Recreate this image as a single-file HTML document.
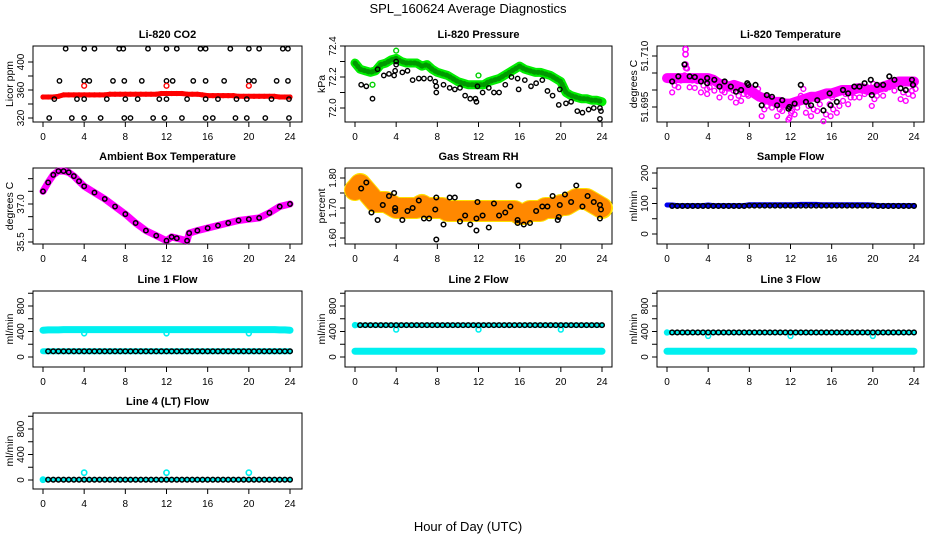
<!DOCTYPE html>
<html><head><meta charset="utf-8"><style>
body{margin:0;background:#fff}
svg{display:block;font-family:"Liberation Sans",sans-serif}
</style></head><body>
<svg id="chart" width="936" height="540" viewBox="0 0 936 540" xmlns="http://www.w3.org/2000/svg">
<rect width="936" height="540" fill="#fff"/>
<text x="468" y="13" text-anchor="middle" font-size="13">SPL_160624  Average Diagnostics</text>
<text x="468" y="531" text-anchor="middle" font-size="13">Hour of Day (UTC)</text>
</svg>
<script>
// ---------- data ----------
const hours = [0,0.5,1,1.5,2,2.5,3,3.5,4,4.5,5,5.5,6,6.5,7,7.5,8,8.5,9,9.5,10,10.5,11,11.5,12,12.5,13,13.5,14,14.5,15,15.5,16,16.5,17,17.5,18,18.5,19,19.5,20,20.5,21,21.5,22,22.5,23,23.5,24];
const xTicks = [0,4,8,12,16,20,24];

const co2Red = [350,350,350,351,353,353,353,353,353,353,353,353,353,354,354,354,354,354,354,354,354,354,354,355,355,355,355,355,354,354,354,353,352,352,352,352,352,352,351,351,351,351,351,351,351,351,350,350,350];
const co2BlackX = [2.2,4,5,7.4,7.8,10.2,12,13,15.3,15.8,18.2,20,21,23.3,23.8, 1.6,4,4.5,6.8,7.9,9.6,12,12.6,14.6,15.8,17.6,20,20.5,22.7,23.8, 1.1,3.3,4,6.2,8,9.2,11.3,12,14,15.8,17,18.8,19.8,22.2,23.9, 0.6,2.8,4,5.6,7.9,8.5,10.7,11.8,13.5,15.8,16.5,18.7,19.8,21.6,23.9];
const co2BlackY = [419,419,419,419,419,419,419,419,419,419,419,419,419,419,419, 373,373,373,373,373,373,373,373,373,373,373,373,373,373,373, 347,347,347,347,347,347,347,347,347,347,347,347,347,347,347, 320,320,320,320,320,320,320,320,320,320,320,320,320,320,320];
const co2CalX = [4,12,20];
const co2CalY = [366,366,366];

const presGreen = [72.29,72.25,72.24,72.23,72.24,72.28,72.29,72.31,72.32,72.30,72.29,72.29,72.29,72.27,72.28,72.25,72.23,72.22,72.21,72.19,72.17,72.16,72.15,72.15,72.15,72.15,72.17,72.18,72.19,72.21,72.23,72.25,72.27,72.25,72.24,72.23,72.23,72.22,72.21,72.19,72.17,72.10,72.08,72.07,72.06,72.06,72.05,72.05,72.04];
const presBlackX = [0.6,1.1,1.7,2.2,2.8,3.3,3.8,3.9,4,4,4.6,5.1,5.6,6.2,6.7,7.3,7.8,7.9,7.9,8.6,9.2,9.7,10.2,10.7,11.2,11.7,11.8,11.9,12.4,13,13.5,14,14.6,15.2,15.8,15.9,16.5,17.1,17.6,18.2,18.7,19.2,19.8,19.9,20.5,21,21.6,22.1,22.7,23.2,23.8,23.9,23.8];
const presBlackY = [72.15,72.14,72.06,72.25,72.21,72.22,72.21,72.24,72.28,72.30,72.23,72.24,72.18,72.19,72.19,72.19,72.17,72.14,72.10,72.15,72.13,72.12,72.13,72.08,72.06,72.06,72.04,72.14,72.10,72.13,72.10,72.10,72.15,72.20,72.19,72.12,72.18,72.14,72.16,72.18,72.11,72.08,72.02,72.12,72.03,72.04,71.98,71.97,71.99,72.00,72.00,71.98,71.93];
const presCalX = [1.7,4,12];
const presCalY = [72.15,72.37,72.21];

const tempMag = [51.7035,51.7035,51.7035,51.7035,51.7035,51.7035,51.7035,51.7035,51.7035,51.703,51.702,51.7015,51.701,51.7015,51.701,51.7005,51.700,51.699,51.698,51.6975,51.697,51.6965,51.6965,51.696,51.696,51.6965,51.697,51.6975,51.698,51.698,51.6985,51.699,51.699,51.6995,51.700,51.700,51.700,51.7005,51.7005,51.700,51.700,51.7005,51.701,51.7015,51.702,51.7025,51.7025,51.7025,51.7025];
const tempBlackX = [0.5,1.1,1.7,2.2,2.7,3.3,3.9,3.9,4.6,5.1,5.6,6.2,6.7,7.2,7.8,7.9,8.6,9.2,9.7,10.2,10.7,11.2,11.8,11.9,12.4,13,13.5,14,14.6,15.2,15.8,15.9,16.5,17.1,17.6,18.2,18.7,19.2,19.8,19.9,20.4,21,21.6,22.1,22.7,23.2,23.8,23.9];
const tempBlackY = [51.7025,51.704,51.7075,51.704,51.7038,51.7025,51.7035,51.702,51.703,51.701,51.7025,51.701,51.6995,51.700,51.702,51.7015,51.7015,51.6955,51.6985,51.698,51.6955,51.697,51.6945,51.695,51.696,51.7015,51.6965,51.6955,51.697,51.694,51.699,51.6955,51.6965,51.7,51.699,51.701,51.701,51.702,51.703,51.6985,51.7015,51.7015,51.704,51.703,51.7005,51.7,51.703,51.7015];
const tempSpikeX = [1.8,1.8,1.8,1.85];
const tempSpikeY = [51.712,51.7105,51.7075,51.7065];

const ambX = [0,0.5,1,1.5,2,2.5,3,3.5,4,5,6,7,8,9,10,11,12,12.5,13,14,14.2,15,16,17,18,19,20,21,22,23,24];
const ambY = [37.5,37.85,38.15,38.3,38.3,38.25,38.1,37.9,37.7,37.45,37.2,36.9,36.6,36.25,35.95,35.75,35.55,35.7,35.65,35.55,35.85,35.95,36.05,36.15,36.25,36.35,36.4,36.45,36.65,36.9,37.0];

const rhOrange = [1.76,1.78,1.76,1.74,1.72,1.72,1.72,1.71,1.70,1.70,1.70,1.70,1.70,1.71,1.70,1.70,1.70,1.70,1.69,1.69,1.69,1.69,1.69,1.69,1.69,1.69,1.69,1.69,1.69,1.69,1.69,1.69,1.68,1.68,1.69,1.69,1.69,1.70,1.70,1.70,1.71,1.71,1.72,1.73,1.73,1.73,1.72,1.71,1.70];
const rhBlackX = [0.6,1.1,1.6,2.2,2.7,3.3,3.8,3.9,3.9,4.6,5.1,5.6,6.2,6.7,7.2,7.8,7.9,7.9,8.6,9.2,9.7,10.2,10.7,11.2,11.8,11.8,11.9,12.4,13,13.5,14,14.6,15.1,15.8,15.8,15.9,16.4,17,17.6,18.2,18.7,19.2,19.7,19.8,19.9,20.4,21,21.5,22.1,22.6,23.2,23.8,23.9,23.8];
const rhBlackY = [1.765,1.785,1.685,1.66,1.71,1.74,1.75,1.70,1.69,1.66,1.69,1.70,1.725,1.665,1.665,1.695,1.735,1.595,1.645,1.735,1.735,1.655,1.675,1.645,1.665,1.625,1.72,1.675,1.635,1.715,1.675,1.685,1.705,1.66,1.65,1.775,1.645,1.65,1.69,1.705,1.705,1.74,1.66,1.67,1.71,1.745,1.72,1.775,1.705,1.74,1.72,1.71,1.695,1.665];

const sampleBlue = [95,95,93,93,93,93,93,93,95,93,93,93,93,93,93,93,96,96,96,96,96,96,96,96,96,96,97,97,97,97,96,96,96,96,96,96,96,96,96,96,95,93,93,93,93,93,93,93,93];
const sampleBlack = [93,92,92,92,92,92,92,92,92,92,92,92,92,92,92,92,93,93,93,93,93,93,93,93,93,93,93,93,93,93,93,93,93,93,93,93,93,93,93,93,93,92,92,92,92,92,92,92,92];

const line1Cyan = [420,425,425,425,430,430,430,430,430,430,430,430,430,430,430,430,430,430,430,430,430,430,430,430,430,430,430,430,430,430,430,430,430,430,430,430,430,430,430,430,430,430,430,430,430,430,425,425,420];
const line1Black = [90,90,90,90,90,90,90,90,90,90,90,90,90,90,90,90,90,90,90,90,90,90,90,90,90,90,90,90,90,90,90,90,90,90,90,90,90,90,90,90,90,90,90,90,90,90,90,90,90];
const line1DipX = [4,12,20]; const line1DipY = [370,370,370];
const line2Cyan = [90,90,90,90,90,90,90,90,90,90,90,90,90,90,90,90,90,90,90,90,90,90,90,90,90,90,90,90,90,90,90,90,90,90,90,90,90,90,90,90,90,90,90,90,90,90,90,90,90];
const line2Black = [500,500,500,500,500,500,500,500,500,500,500,500,500,500,500,500,500,500,500,500,500,500,500,500,500,500,500,500,500,500,500,500,500,500,500,500,500,500,500,500,500,500,500,500,500,500,500,500,500];
const line2DipX = [0,4,12,20]; const line2DipY = [500,430,430,430];
const line3Cyan = line2Cyan;
const line3Black = [385,385,385,385,385,385,385,385,385,385,385,385,385,385,385,385,385,385,385,385,385,385,385,385,385,385,385,385,385,385,385,385,385,385,385,385,385,385,385,385,385,385,385,385,385,385,385,385,385];
const line3DipX = [0,4,12,20]; const line3DipY = [385,330,330,330];
const line4Black = [5,5,5,5,5,5,5,5,5,5,5,5,5,5,5,5,5,5,5,5,5,5,5,5,5,5,5,5,5,5,5,5,5,5,5,5,5,5,5,5,5,5,5,5,5,5,5,5,5];
const line4DipX = [0,4,12,20]; const line4DipY = [5,115,115,115];

// ---------- drawing ----------
const NS = 'http://www.w3.org/2000/svg';
const svg = document.getElementById('chart');
const colX0 = [33,345,657], colX1 = [302,612,924];
const rowTop = [46,168,291,413], BOXH = 76;

function el(tag, attrs, parent){
  const e = document.createElementNS(NS, tag);
  for (const k in attrs) e.setAttribute(k, attrs[k]);
  (parent||svg).appendChild(e);
  return e;
}

function makePanel(col,row,title,ylab,v0,p0,v1,p1,ticks,labels,key){
  const g = el('g',{});
  
  
  const x0 = colX0[col], x1 = colX1[col], top = rowTop[row], bot = top+BOXH;
  const sx = h => x0 + 10 + h*(247/24);
  const sy = v => p0 + (v - v0)*(p1-p0)/(v1-v0);
  const t = el('text',{x:(x0+x1)/2, y:top-8, 'text-anchor':'middle','font-size':11,'font-weight':'bold'},g);
  t.textContent = title;
  
  
  const box = el('rect',{x:x0,y:top,width:x1-x0,height:BOXH,fill:'none',stroke:'#000','stroke-width':1},g);
  
  
  xTicks.forEach(h=>{
    el('line',{x1:sx(h),x2:sx(h),y1:bot,y2:bot+5,stroke:'#000'},g);
    const tl = el('text',{x:sx(h),y:bot+18,'text-anchor':'middle','font-size':10},g);
    tl.textContent = h;
    
    
  });
  ticks.forEach(v=>{ el('line',{x1:x0-5,x2:x0,y1:sy(v),y2:sy(v),stroke:'#000'},g); });
  labels.forEach(v=>{
    const yl = el('text',{x:0,y:0,'text-anchor':'middle','font-size':10,transform:`translate(${x0-9},${sy(v)}) rotate(-90)`},g);
    yl.textContent = v;
    
    
  });
  const ya = el('text',{x:0,y:0,'text-anchor':'middle','font-size':10.5,transform:`translate(${x0-20},${top+BOXH/2}) rotate(-90)`},g);
  ya.textContent = ylab;
  
  
  const clip = el('g',{},g);
  return {g:clip,sx,sy};
}
function band(P,xs,ys,color,w,name){
  const pts = xs.map((h,i)=>P.sx(h)+','+P.sy(ys[i])).join(' ');
  const l = el('polyline',{points:pts,fill:'none',stroke:color,'stroke-width':w,'stroke-linejoin':'round','stroke-linecap':'round'},P.g);
  
  
  return l;
}
function pts(P,xs,ys,color,r,sw,name,fill){
  xs.forEach((h,i)=>{
    const c = el('circle',{cx:P.sx(h),cy:P.sy(ys[i]),r:r,fill:fill||'none',stroke:color,'stroke-width':sw},P.g);
    
    
  });
}

// CO2
let P = makePanel(0,0,'Li-820 CO2','Licor ppm',320,118,400,62,[320,340,360,380,400],[320,360,400],'co2');
band(P,hours,co2Red,'#f00',5,'co2-red-series');
pts(P,hours,co2Red,'#f00',2,1.2,'co2-red-point');
pts(P,co2BlackX,co2BlackY,'#000',2.2,1.4,'co2-black-point');
pts(P,co2CalX,co2CalY,'#f00',2.4,1.4,'co2-red-outlier');

// Pressure
P = makePanel(1,0,'Li-820 Pressure','kPa',72.0,108,72.2,77,[72.0,72.1,72.2,72.3,72.4],['72.0','72.2','72.4'],'pressure');
band(P,hours,presGreen,'#00ee00',9,'pressure-green-series');
band(P,hours,presGreen,'#009900',5,'pressure-green-texture').setAttribute('stroke-dasharray','1 3');
pts(P,presCalX,presCalY,'#00d000',2.4,1.4,'pressure-green-outlier');
pts(P,presBlackX,presBlackY,'#000',2.2,1.4,'pressure-black-point');

// Temperature
P = makePanel(2,0,'Li-820 Temperature','degrees C',51.695,107,51.710,56,[51.695,51.700,51.705,51.710],['51.695','51.710'],'li-temperature');
band(P,hours,tempMag,'#ff00ff',10,'temperature-magenta-series');
pts(P,tempBlackX,tempBlackY.map(v=>v-0.0032),'#ff00ff',2.4,1.4,'temperature-magenta-scatter');
pts(P,tempBlackX.map(v=>v+0.25),tempBlackY.map(v=>v-0.0012),'#ff00ff',2.4,1.4,'temperature-magenta-scatter');
pts(P,tempSpikeX,tempSpikeY,'#ff00ff',2.6,1.6,'temperature-magenta-spike');
pts(P,tempBlackX,tempBlackY,'#000',2.3,1.6,'temperature-black-point');

// Ambient
P = makePanel(0,1,'Ambient Box Temperature','degrees C',35.5,242,37.0,204,[35.5,36,36.5,37,37.5,38],['35.5','37.0'],'ambient');
band(P,ambX,ambY,'#ff00ff',7,'ambient-magenta-series');
pts(P,ambX,ambY,'#000',2.2,1.5,'ambient-black-point');

// RH
P = makePanel(1,1,'Gas Stream RH','percent',1.6,238,1.8,178,[1.60,1.65,1.70,1.75,1.80],['1.60','1.70','1.80'],'rh');
band(P,hours,rhOrange,'#ffe000',22,'rh-yellow-series');
band(P,hours,rhOrange,'#ff8800',20,'rh-orange-texture').setAttribute('stroke-dasharray','1.5 1.5');
band(P,hours,rhOrange,'#ff8800',10,'rh-orange-texture2').setAttribute('stroke-dasharray','1 2');
pts(P,rhBlackX,rhBlackY,'#000',2.3,1.5,'rh-black-point');

// Sample flow
P = makePanel(2,1,'Sample Flow','ml/min',0,234,200,173,[0,50,100,150,200],[0,100,200],'sample-flow');
band(P,hours,sampleBlue,'#0000ee',5,'sample-flow-blue-series');
pts(P,hours.slice(1),sampleBlack.slice(1),'#000',2.3,1.5,'sample-flow-black-point');

const fT = [0,200,400,600,800,1000], fL=[0,400,800];
P = makePanel(0,2,'Line 1 Flow','ml/min',0,357,800,306,fT,fL,'line1');
band(P,hours,line1Cyan,'#00f0f0',7,'line1-cyan-series');
band(P,hours,line1Black,'#00f0f0',6,'line1-cyan-low');
pts(P,line1DipX,line1DipY,'#00f0f0',2.4,1.6,'line1-cyan-outlier');
pts(P,hours.slice(1),line1Black.slice(1),'#000',2.3,1.5,'line1-black-point');

P = makePanel(1,2,'Line 2 Flow','ml/min',0,357,800,306,fT,fL,'line2');
band(P,hours,line2Cyan,'#00f0f0',7,'line2-cyan-series');
band(P,hours,line2Black,'#00f0f0',5,'line2-cyan-high');
pts(P,line2DipX,line2DipY,'#00f0f0',2.4,1.6,'line2-cyan-outlier');
pts(P,hours.slice(1),line2Black.slice(1),'#000',2.3,1.5,'line2-black-point');

P = makePanel(2,2,'Line 3 Flow','ml/min',0,357,800,306,fT,fL,'line3');
band(P,hours,line3Cyan,'#00f0f0',7,'line3-cyan-series');
band(P,hours,line3Black,'#00f0f0',5,'line3-cyan-high');
pts(P,line3DipX,line3DipY,'#00f0f0',2.4,1.6,'line3-cyan-outlier');
pts(P,hours.slice(1),line3Black.slice(1),'#000',2.3,1.5,'line3-black-point');

P = makePanel(0,3,'Line 4 (LT) Flow','ml/min',0,480,800,429,fT,fL,'line4');
band(P,hours,line4Black,'#00f0f0',4,'line4-cyan-series');
pts(P,line4DipX,line4DipY,'#00f0f0',2.6,1.6,'line4-cyan-outlier');
pts(P,hours.slice(1),line4Black.slice(1),'#000',2.3,1.5,'line4-black-point');
</script>
</body></html>
